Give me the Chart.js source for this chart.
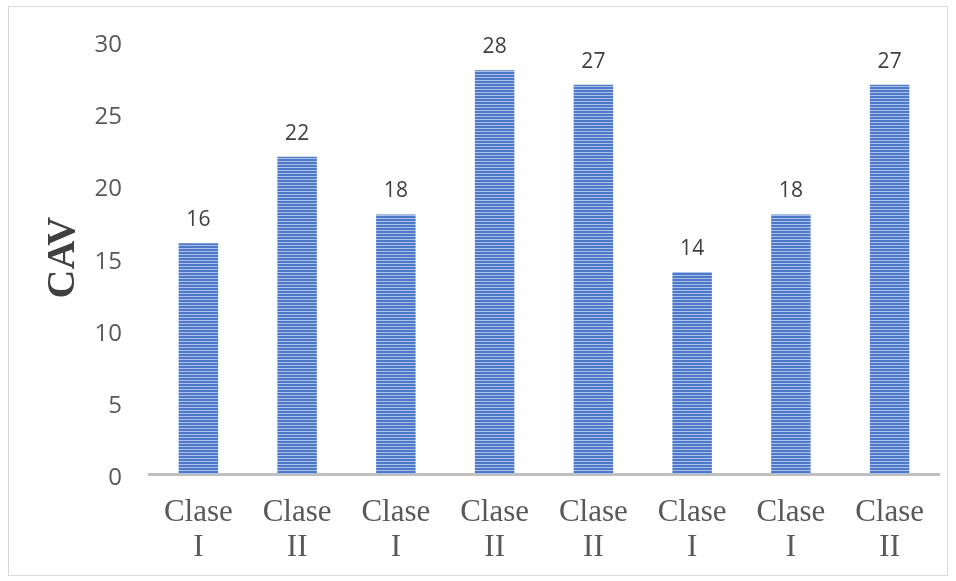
<!DOCTYPE html>
<html>
<head>
<meta charset="utf-8">
<script src="https://cdn.jsdelivr.net/npm/chart.js@4/dist/chart.umd.min.js"></script>
<style>
  html, body { margin: 0; padding: 0; background: #fff; }
  #wrap { width: 956px; height: 581px; position: relative; }
</style>
</head>
<body>
<div id="wrap"><canvas id="cavChart" width="956" height="581"></canvas></div>
<script>
// Chart data
const categories = [["Clase", "I"], ["Clase", "II"], ["Clase", "I"], ["Clase", "II"],
                    ["Clase", "II"], ["Clase", "I"], ["Clase", "I"], ["Clase", "II"]];
const cavValues = [16, 22, 18, 28, 27, 14, 18, 27];
const yTicks = [0, 5, 10, 15, 20, 25, 30];

// striped fill like the original bars
function stripePattern() {
    const c = document.createElement('canvas');
    c.width = 4; c.height = 3;
    const g = c.getContext('2d');
    g.fillStyle = '#4e79c9';
    g.fillRect(0, 0, 4, 3);
    g.fillStyle = '#aac0e8';
    g.fillRect(0, 2, 4, 1);
    return g.createPattern(c, 'repeat');
}

const frame = {
    id: 'frame',
    afterDraw(chart) {
        const ctx = chart.ctx;
        ctx.save();
        ctx.strokeStyle = '#d9d9d9';
        ctx.lineWidth = 1;
        ctx.strokeRect(8.5, 6.5, 939, 569);
        ctx.restore();
    }
};

const barLabels = {
    id: 'barLabels',
    afterDatasetsDraw(chart) {
        const ctx = chart.ctx;
        const meta = chart.getDatasetMeta(0);
        ctx.save();
        ctx.font = '21px "Open Sans"';
        ctx.fillStyle = '#404040';
        ctx.textAlign = 'center';
        ctx.textBaseline = 'middle';
        meta.data.forEach((bar, i) => {
            ctx.fillText(String(cavValues[i]), bar.x, bar.y - 23);
        });
        ctx.restore();
    }
};

const ctx = document.getElementById('cavChart').getContext('2d');
new Chart(ctx, {
    type: 'bar',
    data: {
        labels: categories,
        datasets: [{
            data: cavValues,
            backgroundColor: stripePattern(),
            borderWidth: 0,
            barPercentage: 0.4,
            categoryPercentage: 1
        }]
    },
    options: {
        responsive: false,
        animation: false,
        layout: { padding: { left: 38, right: 17, top: 40, bottom: 0 } },
        plugins: { legend: { display: false }, tooltip: { enabled: false } },
        scales: {
            x: {
                grid: { display: false, drawTicks: false },
                border: { display: true, color: '#bfbfbf', width: 3 },
                ticks: {
                    color: '#595959',
                    font: { family: '"Liberation Serif"', size: 31, lineHeight: 1.13 },
                    padding: 21,
                    maxRotation: 0,
                    autoSkip: false
                },
                afterFit(scale) { scale.height = 107; }
            },
            y: {
                min: 0,
                max: 30,
                afterBuildTicks(scale) { scale.ticks = yTicks.map(v => ({ value: v })); },
                grid: { display: false, drawTicks: false },
                border: { display: false },
                ticks: {
                    color: '#595959',
                    font: { family: '"Open Sans"', size: 24 },
                    padding: 27,
                    labelOffset: 4
                },
                title: {
                    display: true,
                    text: 'CAV',
                    color: '#404040',
                    font: { family: '"Liberation Serif"', size: 40, weight: 'bold' },
                    padding: 2
                },
                afterFit(scale) { scale.width = 111; }
            }
        }
    },
    plugins: [frame, barLabels]
});
</script>
</body>
</html>
